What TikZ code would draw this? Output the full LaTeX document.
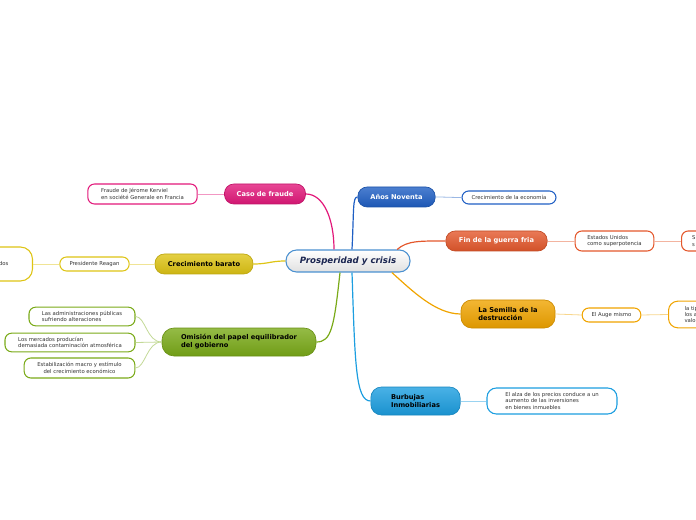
\documentclass[tikz,border=0pt]{standalone}
\usepackage{fontspec}
\setmainfont{DejaVu Sans}
\definecolor{rosa}{HTML}{E2187A}
\definecolor{azul}{HTML}{1F5FC4}
\definecolor{naranja}{HTML}{E4582C}
\definecolor{amarillo}{HTML}{DEC414}
\definecolor{ambar}{HTML}{F0A400}
\definecolor{verde}{HTML}{7AAA18}
\definecolor{celeste}{HTML}{1C9EE0}
\definecolor{borde}{HTML}{4A90D0}
\definecolor{tinta}{HTML}{1A2550}
\begin{document}
\begin{tikzpicture}[x=0.75pt, y=-0.75pt, every node/.style={align=center},
  rama/.style={rounded corners=7pt, draw=#1!85!black, line width=0.5pt, top color=#1!80!white, bottom color=#1!92!black, font=\fontsize{5}{6}\selectfont\bfseries, inner sep=1pt},
  hoja/.style={rounded corners=5pt, draw=#1, line width=0.8pt, fill=white, font=\fontsize{4}{4.8}\selectfont, text=black!80, inner sep=1pt},
  enlace/.style={draw=#1!45!white, line width=0.6pt},
  tronco/.style={draw=#1, line width=0.9pt}]
\useasboundingbox (0,0) rectangle (696,520);

\node[rounded corners=8pt, draw=borde, line width=0.8pt, top color=white, bottom color=black!12, minimum width=93pt, minimum height=16.5pt, font=\fontsize{6.5}{7.5}\selectfont\bfseries\itshape, text=tinta, inner sep=1pt] (centro) at (348,261) {Prosperidad y crisis};

\node[rama=rosa, text=white, minimum width=60.75pt, minimum height=15pt] (fraude) at (265,194) {Caso de fraude};
\node[hoja=rosa, align=left, minimum width=82pt, minimum height=15pt] (kerviel) at (142.5,194) {Fraude de Jérome Kerviel\\en société Generale en Francia};

\node[rama=azul, text=white, minimum width=58pt, minimum height=15pt] (noventa) at (396.5,197) {Años Noventa};
\node[hoja=azul, minimum width=70.5pt, minimum height=9.75pt] (economia) at (509,197.5) {Crecimiento de la economía};

\node[rama=naranja, text=white, minimum width=76pt, minimum height=15pt] (guerra) at (496.5,241) {Fin de la guerra fria};
\node[hoja=naranja, align=left, minimum width=59pt, minimum height=15pt] (potencia) at (614.5,241) {Estados Unidos\\como superpotencia};
\node[hoja=naranja, anchor=west, align=left, text width=40pt, inner xsep=8pt, minimum height=15pt] (potencia2) at (681,241) {S\\s};

\node[rama=amarillo, text=black, minimum width=73.5pt, minimum height=15pt] (barato) at (204,264) {Crecimiento barato};
\node[hoja=amarillo, minimum width=52pt, minimum height=10.5pt] (reagan) at (94.5,264) {Presidente Reagan};
\node[hoja=amarillo, anchor=east, align=right, text width=40pt, inner xsep=18pt, minimum height=25.5pt, rounded corners=9pt] (reagan2) at (33,264) {dos\\[3pt]};

\node[rama=ambar, text=black, align=left, minimum width=70.5pt, minimum height=21pt, rounded corners=8pt] (semilla) at (508,314) {La Semilla de la\\destrucción};
\node[hoja=ambar, minimum width=44pt, minimum height=10.5pt] (auge) at (611.5,315) {El Auge mismo};
\node[hoja=ambar, anchor=west, align=left, text width=40pt, inner xsep=12pt, minimum height=20pt, rounded corners=7pt] (auge2) at (668,314.5) {la tip\\los a\\valo};

\node[rama=verde, text=black, align=left, minimum width=115.5pt, minimum height=21pt, rounded corners=9pt] (omision) at (239,342) {Omisión del papel equilibrador\\del gobierno};
\node[hoja=verde, align=left, minimum width=79.5pt, minimum height=14pt] (admin) at (82,316.5) {Las administraciones públicas\\sufriendo alteraciones};
\node[hoja=verde, align=left, minimum width=97.5pt, minimum height=14pt] (mercados) at (70,342.5) {Los mercados producían\\demasiada contaminación atmosférica};
\node[hoja=verde, minimum width=83pt, minimum height=15pt] (estab) at (79.5,368) {Estabilización macro y estímulo\\del crecimiento económico};

\node[rama=celeste, text=black, align=left, minimum width=67pt, minimum height=21pt, rounded corners=8pt] (burbujas) at (415.5,401) {Burbujas\\Inmobiliarias};
\node[hoja=celeste, align=left, minimum width=97.5pt, minimum height=19.5pt, rounded corners=7pt] (alza) at (552,401) {El alza de los precios conduce a un\\aumento de las inversiones\\en bienes inmuebles};

\draw[tronco=rosa] ([xshift=-10.5pt]centro.north) .. controls +(0,-30) and +(18,0) .. (fraude.east);
\draw[tronco=azul] ([xshift=3pt]centro.north) .. controls +(2,-40) and +(-5,0) .. (noventa.west);
\draw[tronco=naranja] ([xshift=-10pt]centro.north east) .. controls +(10,-9) and +(-25,0) .. (guerra.west);
\draw[tronco=ambar] ([xshift=-14pt]centro.south east) .. controls +(20,18) and +(-25,0) .. (semilla.west);
\draw[tronco=celeste] ([xshift=3pt]centro.south) .. controls +(3,90) and +(-15,0) .. (burbujas.west);
\draw[tronco=verde] ([xshift=-6pt]centro.south) .. controls +(-6,55) and +(15,0) .. (omision.east);
\draw[tronco=amarillo] (centro.west) .. controls +(-15,0) and +(15,0) .. (barato.east);

\draw[enlace=rosa] (fraude.west) -- (kerviel.east);
\draw[enlace=azul] (noventa.east) .. controls +(10,0) and +(-10,0) .. (economia.west);
\draw[enlace=naranja] (guerra.east) -- (potencia.west);
\draw[enlace=naranja] (potencia.east) -- (potencia2.west);
\draw[enlace=amarillo] (barato.west) -- (reagan.east);
\draw[enlace=amarillo] (reagan.west) -- (reagan2.east);
\draw[enlace=ambar] (semilla.east) -- (auge.west);
\draw[enlace=ambar] (auge.east) -- (auge2.west);
\draw[enlace=verde] (omision.west) .. controls +(-15,0) and +(10,0) .. (admin.east);
\draw[enlace=verde] (omision.west) -- (mercados.east);
\draw[enlace=verde] (omision.west) .. controls +(-15,0) and +(10,0) .. (estab.east);
\draw[enlace=celeste] (burbujas.east) -- (alza.west);
\end{tikzpicture}
\end{document}
